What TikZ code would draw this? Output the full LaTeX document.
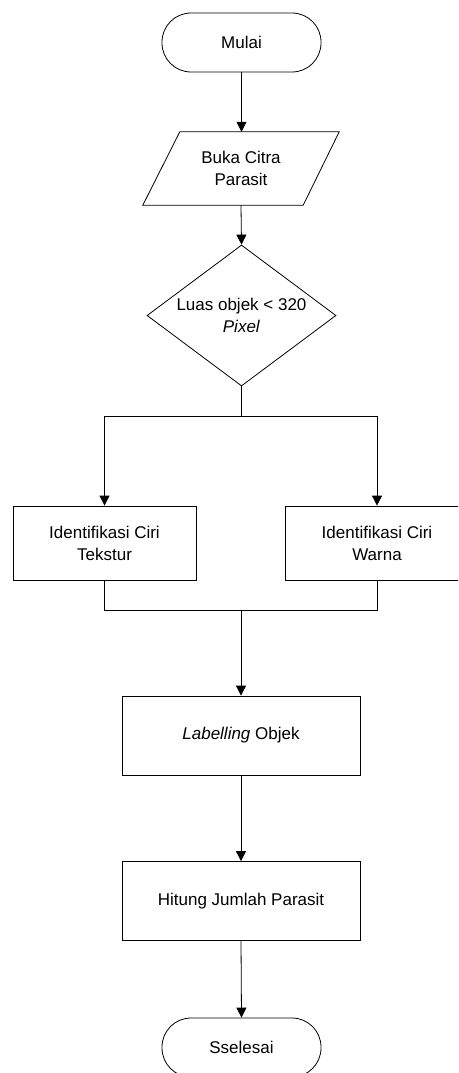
\documentclass[tikz,border=0pt]{standalone}
\usepackage{fontspec}
\setmainfont{Liberation Sans}
\usetikzlibrary{shapes.geometric,arrows.meta,calc}
\begin{document}
\begin{tikzpicture}[x=1pt,y=-1pt,
  every node/.style={font=\fontsize{17}{22}\selectfont, align=center, inner sep=0pt},
  term/.style={draw, line width=0.8pt, rounded corners=29pt, minimum width=159pt, minimum height=59pt},
  proc/.style={draw, line width=0.8pt, minimum width=238pt, minimum height=79pt},
  ciri/.style={draw, line width=0.8pt, minimum width=183pt, minimum height=74pt},
  io/.style={minimum width=196pt, minimum height=73pt},
  dec/.style={draw, line width=0.8pt, shape=diamond, aspect=1.34, minimum width=189pt, minimum height=141pt},
  ln/.style={line width=0.8pt},
  arr/.style={line width=0.8pt, -{Triangle[length=10pt,width=10pt]}}]
\useasboundingbox (0,0) rectangle (458,1073);
\clip (0,0) rectangle (458,1073);
\node[term] (mulai) at (241.5,42.5) {Mulai};
\node[io] (buka) at (241,168.5) {Buka Citra\\Parasit};
\draw[ln] ($(buka.north west)+(37,0)$) -- (buka.north east) -- ($(buka.south east)+(-36,0)$) -- (buka.south west) -- cycle;
\node[dec] (luas) at (241.5,315.5) {Luas objek < 320\\\textit{Pixel}};
\node[ciri] (cirit) at (104.5,543) {Identifikasi Ciri\\Tekstur};
\node[ciri] (ciriw) at (377,543) {Identifikasi Ciri\\Warna};
\node[proc] (label) at (241,735.5) {\textit{Labelling} Objek};
\node[proc] (hitung) at (241,901) {Hitung Jumlah Parasit};
\node[term] (selesai) at (241.5,1047.5) {Sselesai};
\draw[arr] (mulai.south) -- (mulai.south |- buka.north);
\draw[arr] (buka.south) -- (luas.north);
\draw[ln] (luas.south) -- ++(0,30) coordinate (br);
\draw[arr] (br) -| (cirit.north);
\draw[arr] (br) -| (ciriw.north);
\draw[ln] (cirit.south) |- ($(br)+(-0.5,193.5)$) coordinate (jn) -| (ciriw.south);
\draw[arr] (jn) -- (label.north);
\draw[arr] (label.south) -- (hitung.north);
\draw[arr] (hitung.south) -- (selesai.north);
\end{tikzpicture}
\end{document}
